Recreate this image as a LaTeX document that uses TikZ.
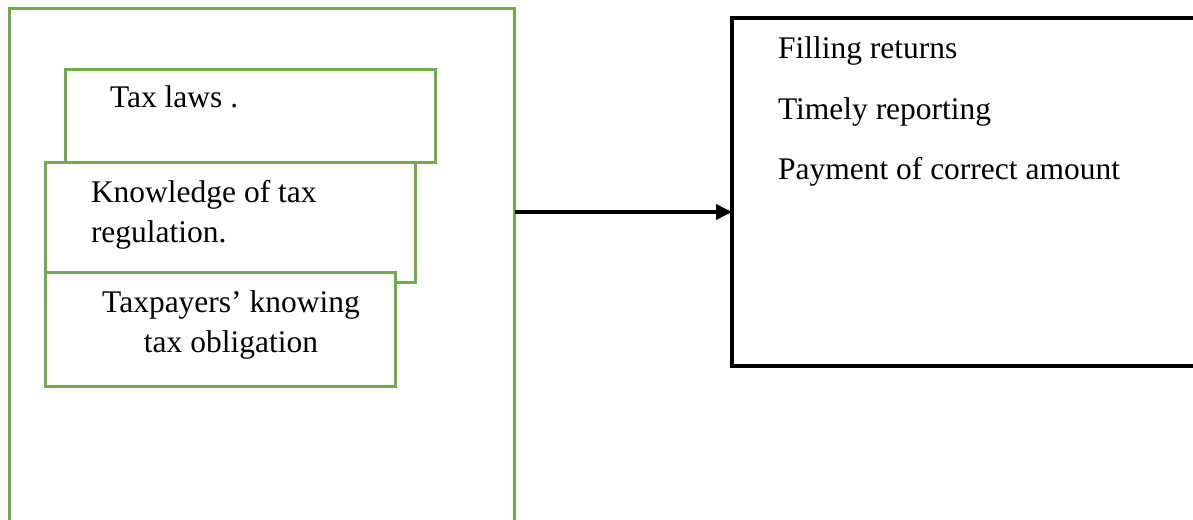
\documentclass[tikz,border=0pt]{standalone}
\usepackage{fontspec}
\setmainfont{Liberation Serif}
\usetikzlibrary{arrows.meta}

\definecolor{boxgreen}{RGB}{112,173,71}

\begin{document}
\begin{tikzpicture}[
    x=1pt, y=-1pt,
    every node/.style={font=\fontsize{31.5}{39.5}\selectfont, inner sep=0pt, outer sep=0pt},
    greenbox/.style={rectangle, draw=boxgreen, line width=3pt, fill=white},
    blackbox/.style={rectangle, draw=black, line width=3.5pt, fill=white},
    boxtext/.style={anchor=base west, align=left},
    arrow/.style={-{Triangle[length=16pt, width=15pt]}, line width=3.5pt}
]
\useasboundingbox (0,0) rectangle (1193,519);

% Cajas (posiciones a mano)
\node[greenbox, minimum width=505pt, minimum height=531pt] (outer) at (262,274) {};
\node[greenbox, minimum width=370pt, minimum height=93pt] (taxlaws) at (250,115.5) {};
\node[greenbox, minimum width=370pt, minimum height=120pt] (knowledge) at (230,222) {};
\node[greenbox, minimum width=350pt, minimum height=114pt] (taxpayers) at (220,329) {};
\node[blackbox, minimum width=473pt, minimum height=348pt] (result) at (968.5,192) {};

% Textos (base = ultima linea)
\node[boxtext] (taxlawstext) at (110,107) {Tax laws .};
\node[boxtext] (knowledgetext) at (91,242) {Knowledge of tax\\regulation.};
\node[boxtext, anchor=base, align=center] (taxpayerstext) at (231,352) {Taxpayers’ knowing\\tax obligation};
\node[boxtext] (filling) at (778,59) {Filling returns};
\node[boxtext] (timely) at (778,119) {Timely reporting};
\node[boxtext] (payment) at (778,179) {Payment of correct amount};

% Flecha
\coordinate (arrowlevel) at (0,212);
\draw[arrow] (outer.east |- arrowlevel) -- (result.west |- arrowlevel);

\end{tikzpicture}
\end{document}
